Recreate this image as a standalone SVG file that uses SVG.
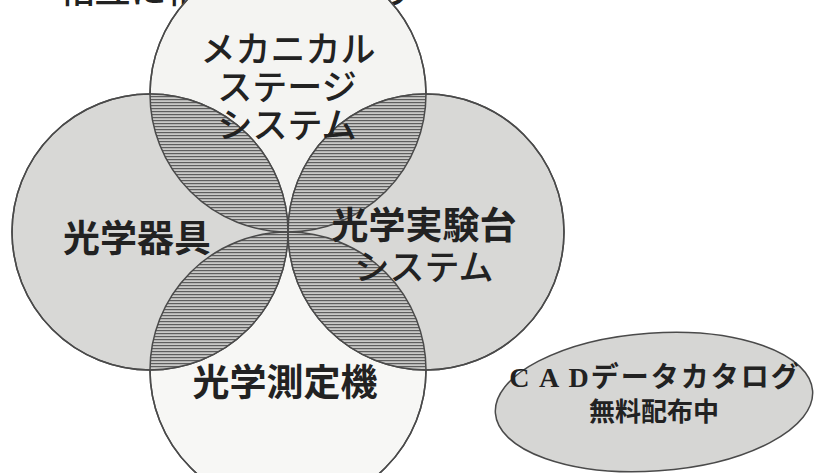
<svg xmlns="http://www.w3.org/2000/svg" width="815" height="473" viewBox="0 0 815 473">
<style>
.c{stroke:#4a4a4a;stroke-width:1.5}
.o{fill:none;stroke:#4a4a4a;stroke-width:1.5}
.t{font-family:"Noto Sans CJK JP","Noto Sans",sans-serif;fill:#222;text-anchor:middle}
.k{font-weight:500;font-size:35px}
.b{font-weight:700;font-size:37px}
</style>
<defs>
<pattern id="hatch" width="8" height="3" patternUnits="userSpaceOnUse">
<rect width="8" height="3" fill="#c9c9c7"/>
<rect y="0" width="8" height="1.2" fill="#5e5e5e"/>
</pattern>
<clipPath id="cTop"><circle cx="288" cy="94" r="138"/></clipPath>
<clipPath id="cBot"><circle cx="288" cy="370" r="138"/></clipPath>
</defs>
<rect width="815" height="473" fill="#ffffff"/>
<text class="t" x="238" y="3" style="font-weight:500;font-size:36px">相互に補完しています</text>
<g id="node-top"><circle class="c" cx="288" cy="94" r="138" fill="#f4f4f2"/></g>
<g id="node-bottom"><circle class="c" cx="288" cy="370" r="138" fill="#f7f7f5"/></g>
<g id="node-left"><circle class="c" cx="150" cy="232" r="138" fill="#d8d8d6"/></g>
<g id="node-right"><circle class="c" cx="426" cy="232" r="138" fill="#d8d8d6"/></g>
<g id="connectors">
<g clip-path="url(#cTop)">
<circle cx="150" cy="232" r="138" fill="url(#hatch)"/>
<circle cx="426" cy="232" r="138" fill="url(#hatch)"/>
</g>
<g clip-path="url(#cBot)">
<circle cx="150" cy="232" r="138" fill="url(#hatch)"/>
<circle cx="426" cy="232" r="138" fill="url(#hatch)"/>
</g>
<circle class="o" cx="288" cy="94" r="138"/>
<circle class="o" cx="288" cy="370" r="138"/>
<circle class="o" cx="150" cy="232" r="138"/>
<circle class="o" cx="426" cy="232" r="138"/>
</g>
<g id="labels">
<text class="t k" x="288" y="62">メカニカル</text>
<text class="t k" x="287" y="100">ステージ</text>
<text class="t k" x="287" y="138">システム</text>
<text class="t b" x="137" y="252">光学器具</text>
<text class="t b" x="424" y="239">光学実験台</text>
<text class="t k" x="424" y="280">システム</text>
<text class="t b" x="285" y="396">光学測定機</text>
</g>
<g id="node-cad">
<ellipse class="c" cx="654" cy="402" rx="159" ry="69" transform="rotate(-4 654 402)" fill="#d6d6d4"/>
<text x="655" y="387" text-anchor="middle" fill="#222" style="font-family:'Liberation Serif','Noto Sans CJK JP',serif;font-weight:700;font-size:28px" letter-spacing="2">C A Dデータカタログ</text>
<text class="t" x="654" y="421" style="font-weight:700;font-size:26px">無料配布中</text>
</g>
</svg>
